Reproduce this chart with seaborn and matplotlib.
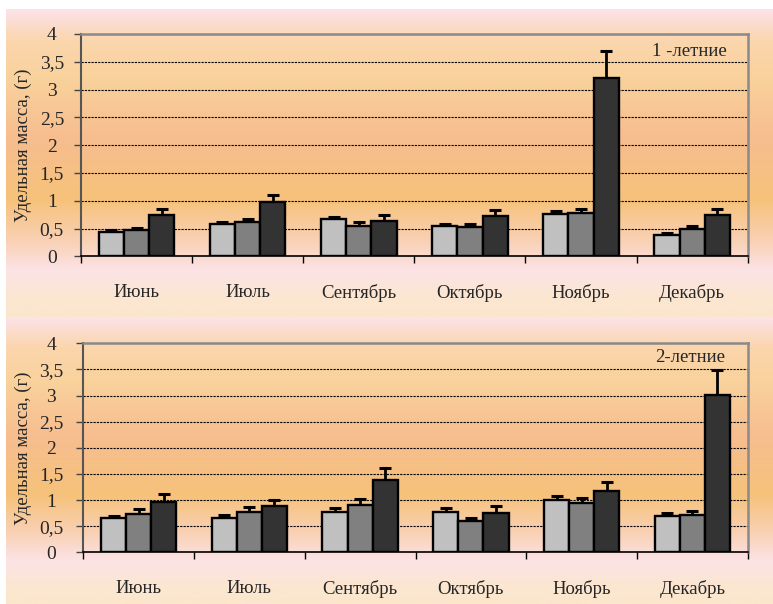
import matplotlib

matplotlib.use("Agg")
import matplotlib.pyplot as plt
import matplotlib.transforms as mtransforms
from matplotlib.colors import LinearSegmentedColormap
import numpy as np
import pandas as pd
import seaborn as sns

# ---------------------------------------------------------------------------
# Data
# ---------------------------------------------------------------------------
months = ["Июнь", "Июль", "Сентябрь", "Октябрь", "Ноябрь", "Декабрь"]
series = ["s1", "s2", "s3"]
y_ticks = [0, 0.5, 1, 1.5, 2, 2.5, 3, 3.5, 4]
y_tick_labels = ["0", "0,5", "1", "1,5", "2", "2,5", "3", "3,5", "4"]

# 1-летние
light_1 = [0.43, 0.58, 0.67, 0.54, 0.77, 0.39]
light_1_err = [0.05, 0.04, 0.04, 0.04, 0.05, 0.03]
mid_1 = [0.47, 0.62, 0.55, 0.52, 0.78, 0.50]
mid_1_err = [0.04, 0.06, 0.06, 0.06, 0.07, 0.05]
dark_1 = [0.74, 0.97, 0.64, 0.72, 3.21, 0.74]
dark_1_err = [0.11, 0.13, 0.10, 0.11, 0.48, 0.12]

# 2-летние
light_2 = [0.65, 0.66, 0.78, 0.78, 1.00, 0.70]
light_2_err = [0.05, 0.05, 0.06, 0.06, 0.08, 0.05]
mid_2 = [0.74, 0.78, 0.91, 0.60, 0.95, 0.71]
mid_2_err = [0.08, 0.09, 0.11, 0.06, 0.09, 0.08]
dark_2 = [0.97, 0.88, 1.39, 0.76, 1.17, 3.02]
dark_2_err = [0.15, 0.13, 0.22, 0.13, 0.17, 0.46]

BAR_COLORS = ["#c0c0c0", "#808080", "#333333"]
BG_COLORS = [
    (0.00, "#fde2ea"),
    (0.10, "#fbd6ae"),
    (0.22, "#f9d29c"),
    (0.42, "#f7bd8f"),
    (0.62, "#f6c27a"),
    (0.76, "#f9d2b8"),
    (0.85, "#fce3e6"),
    (0.93, "#fbe6d2"),
    (1.00, "#fbe7cc"),
]

sns.set_theme(style="ticks")
plt.rcParams["font.family"] = ["Liberation Serif", "DejaVu Serif"]

W, H = 773, 604
fig = plt.figure(figsize=(W / 100, H / 100), dpi=100)
fig.patch.set_facecolor("white")

bg_cmap = LinearSegmentedColormap.from_list("bg", BG_COLORS)


def add_background(top_px, bottom_px):
    bg = fig.add_axes([6 / W, 1 - bottom_px / H, (W - 6) / W, (bottom_px - top_px) / H])
    bg.imshow(np.linspace(0, 1, 256).reshape(-1, 1), cmap=bg_cmap, aspect="auto")
    bg.set_axis_off()
    bg.set_zorder(-5)


def draw_panel(rect, values, errors, note, note_x, note_y, ytick_pad, label_x):
    ax = fig.add_axes(rect)
    ax.set_facecolor("none")

    df = pd.concat(
        [pd.DataFrame({"month": months, "series": s, "value": v}) for s, v in zip(series, values)],
        ignore_index=True,
    )
    sns.barplot(
        data=df, x="month", y="value", hue="series", order=months, hue_order=series,
        palette=BAR_COLORS, saturation=1, width=0.68, errorbar=None,
        edgecolor="black", linewidth=1.7, legend=False, ax=ax, zorder=3,
    )

    # one-sided (upper) error bars placed on the seaborn bars
    for container, err in zip(ax.containers, errors):
        xs = [b.get_x() + b.get_width() / 2 for b in container]
        ys = [b.get_height() for b in container]
        _, caps, _ = ax.errorbar(
            xs, ys, yerr=[np.zeros(len(err)), err], fmt="none", ecolor="black",
            elinewidth=2, capsize=4.5, capthick=2.2, zorder=2,
        )
        caps[0].set_visible(False)

    ax.set_xlim(-0.5, len(months) - 0.5)
    ax.set_ylim(0, 4)
    ax.set_yticks(y_ticks)
    ax.set_yticklabels(y_tick_labels, ha="center")
    ax.set_xticks(np.arange(len(months)))
    ax.set_xticklabels(months)
    ax.set_xticks(np.arange(-0.5, len(months), 1), minor=True)
    ax.tick_params(axis="x", which="major", length=0, pad=20, labelsize=13.5)
    ax.tick_params(axis="x", which="minor", length=5, width=1, direction="out", color="black")
    ax.tick_params(axis="y", length=5, width=1, direction="out", labelsize=14,
                   pad=ytick_pad, color="#444444")

    ax.set_axisbelow(True)
    ax.yaxis.grid(True, color="black", linestyle=(0, (2, 1)), linewidth=0.8)
    ax.xaxis.grid(False)

    for side in ["top", "right"]:
        ax.spines[side].set_color("#8a8a8a")
        ax.spines[side].set_linewidth(1.8)
    ax.spines["left"].set_color("#555555")
    ax.spines["left"].set_linewidth(1.5)
    ax.spines["bottom"].set_color("black")
    ax.spines["bottom"].set_linewidth(1.2)

    ax.set_xlabel("")
    ax.set_ylabel("Удельная масса, (г)", fontsize=13.5)
    ax.yaxis.set_label_coords(label_x, 0.5)

    trans = mtransforms.blended_transform_factory(ax.transAxes, ax.transData)
    ax.text(note_x, note_y, note, transform=trans, ha="right", va="center", fontsize=13.5)
    return ax


add_background(9, 317)
add_background(317, 604)

draw_panel(
    [81 / W, 1 - 256.3 / H, (747.7 - 81) / W, 222.3 / H],
    [light_1, mid_1, dark_1], [light_1_err, mid_1_err, dark_1_err],
    "1 -летние", 0.969, 3.69, ytick_pad=16, label_x=-0.073,
)
draw_panel(
    [83.3 / W, 1 - 552.3 / H, (747.7 - 83.3) / W, 209 / H],
    [light_2, mid_2, dark_2], [light_2_err, mid_2_err, dark_2_err],
    "2-летние", 0.966, 3.72, ytick_pad=18, label_x=-0.0765,
)

fig.savefig("out.png", dpi=100)
